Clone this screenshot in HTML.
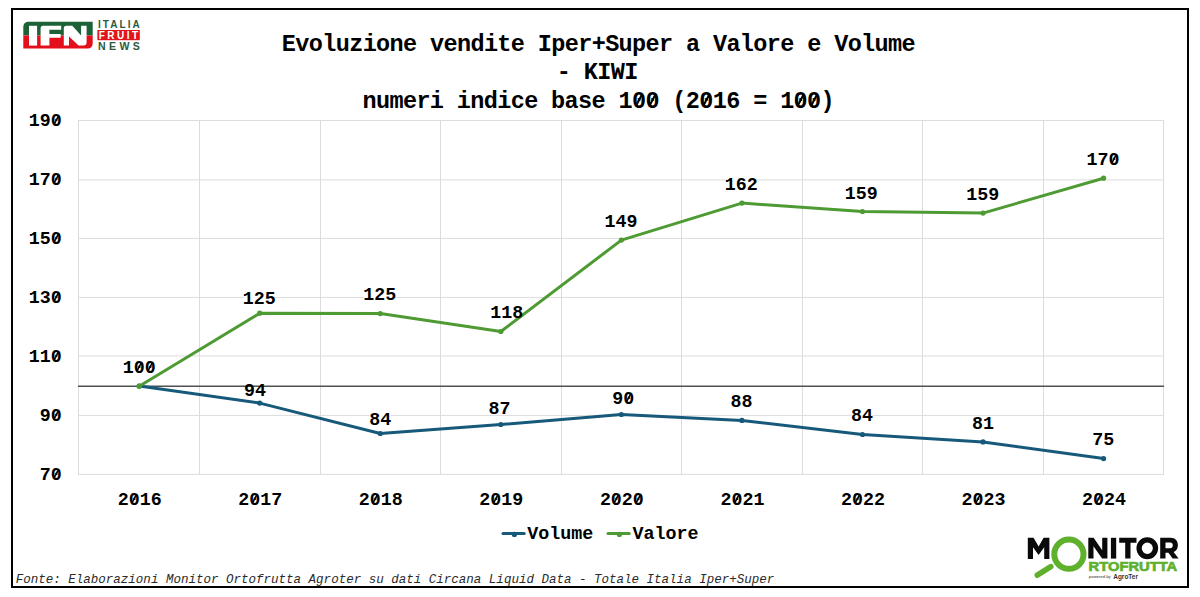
<!DOCTYPE html>
<html><head><meta charset="utf-8"><style>
html,body{margin:0;padding:0;background:#fff;}
body{width:1200px;height:597px;overflow:hidden;}
svg{display:block;}
.g{stroke:#dcdcdc;stroke-width:1;}
.l{font-family:"Liberation Mono",monospace;font-weight:bold;font-size:18.33px;fill:#000;}
.t{font-family:"Liberation Mono",monospace;font-weight:bold;font-size:23.5px;letter-spacing:-0.63px;fill:#000;}
.f{font-family:"Liberation Mono",monospace;font-style:italic;font-size:12.52px;fill:#2a2a2a;}
</style></head><body>
<svg width="1200" height="597" viewBox="0 0 1200 597">
<rect x="0" y="0" width="1200" height="597" fill="#fff"/>
<rect x="12" y="9" width="1176" height="578" fill="none" stroke="#000" stroke-width="2"/>
<!-- title -->
<text x="281.8" y="51" class="t">Evoluzione vendite Iper+Super a Valore e Volume</text>
<text x="556.8" y="79.1" class="t">- KIWI</text>
<text x="362.5" y="108.2" class="t">numeri indice base 100 (2016 = 100)</text>
<line x1="78" y1="120.55" x2="1164" y2="120.55" class="g"/>
<line x1="78" y1="179.9" x2="1164" y2="179.9" class="g"/>
<line x1="78" y1="238.4" x2="1164" y2="238.4" class="g"/>
<line x1="78" y1="297.4" x2="1164" y2="297.4" class="g"/>
<line x1="78" y1="355.95" x2="1164" y2="355.95" class="g"/>
<line x1="78" y1="415.4" x2="1164" y2="415.4" class="g"/>
<line x1="78" y1="474.4" x2="1164" y2="474.4" class="g"/>
<line x1="78.5" y1="120.05" x2="78.5" y2="474.9" class="g"/>
<line x1="199.5" y1="120.05" x2="199.5" y2="474.9" class="g"/>
<line x1="320.5" y1="120.05" x2="320.5" y2="474.9" class="g"/>
<line x1="440.5" y1="120.05" x2="440.5" y2="474.9" class="g"/>
<line x1="561.5" y1="120.05" x2="561.5" y2="474.9" class="g"/>
<line x1="681.5" y1="120.05" x2="681.5" y2="474.9" class="g"/>
<line x1="802.5" y1="120.05" x2="802.5" y2="474.9" class="g"/>
<line x1="922.5" y1="120.05" x2="922.5" y2="474.9" class="g"/>
<line x1="1043.5" y1="120.05" x2="1043.5" y2="474.9" class="g"/>
<line x1="1163.5" y1="120.05" x2="1163.5" y2="474.9" class="g"/>
<rect x="123.6" y="360.4" width="31.5" height="13.1" fill="#fff"/>
<rect x="243.9" y="291.4" width="30.7" height="12.8" fill="#fff"/>
<rect x="364.3" y="288.2" width="30.7" height="12.9" fill="#fff"/>
<rect x="491.2" y="305.0" width="31.1" height="13.5" fill="#fff"/>
<rect x="605.2" y="214.2" width="31.6" height="13.5" fill="#fff"/>
<rect x="725.6" y="177.1" width="31.2" height="13.5" fill="#fff"/>
<rect x="845.8" y="186.1" width="31.0" height="13.2" fill="#fff"/>
<rect x="966.9" y="187.5" width="31.6" height="13.1" fill="#fff"/>
<rect x="1087.1" y="152.8" width="31.9" height="13.0" fill="#fff"/>
<rect x="369.7" y="411.9" width="21.3" height="13.5" fill="#fff"/>
<rect x="489.1" y="400.8" width="20.8" height="13.4" fill="#fff"/>
<rect x="612.7" y="391.2" width="21.2" height="13.3" fill="#fff"/>
<rect x="731.2" y="394.7" width="20.9" height="13.0" fill="#fff"/>
<rect x="851.6" y="408.9" width="20.9" height="13.1" fill="#fff"/>
<rect x="972.7" y="416.2" width="20.6" height="13.3" fill="#fff"/>
<rect x="1093.0" y="432.9" width="20.5" height="13.2" fill="#fff"/>
<line x1="78" y1="386.3" x2="1164" y2="386.3" stroke="#505050" stroke-width="1.4"/>
<text x="61.8" y="126.4" text-anchor="end" class="l">190</text>
<text x="61.8" y="185.3" text-anchor="end" class="l">170</text>
<text x="61.8" y="244.3" text-anchor="end" class="l">150</text>
<text x="61.8" y="303.2" text-anchor="end" class="l">130</text>
<text x="61.8" y="362.1" text-anchor="end" class="l">110</text>
<text x="61.8" y="421.0" text-anchor="end" class="l">90</text>
<text x="61.8" y="480.0" text-anchor="end" class="l">70</text>
<text x="139.68" y="505" text-anchor="middle" class="l">2016</text>
<text x="260.23" y="505" text-anchor="middle" class="l">2017</text>
<text x="380.77" y="505" text-anchor="middle" class="l">2018</text>
<text x="501.32" y="505" text-anchor="middle" class="l">2019</text>
<text x="621.88" y="505" text-anchor="middle" class="l">2020</text>
<text x="742.42" y="505" text-anchor="middle" class="l">2021</text>
<text x="862.97" y="505" text-anchor="middle" class="l">2022</text>
<text x="983.53" y="505" text-anchor="middle" class="l">2023</text>
<text x="1104.08" y="505" text-anchor="middle" class="l">2024</text>
<polyline points="139.18,386.1 259.73,403.1 380.27,433.5 500.82,424.5 621.38,414.5 741.92,420.4 862.47,434.5 983.03,441.9 1103.58,458.6" fill="none" stroke="#17597a" stroke-width="3" stroke-linejoin="round" stroke-linecap="round"/>
<circle cx="139.18" cy="386.1" r="2.6" fill="#17597a"/>
<circle cx="259.73" cy="403.1" r="2.6" fill="#17597a"/>
<circle cx="380.27" cy="433.5" r="2.6" fill="#17597a"/>
<circle cx="500.82" cy="424.5" r="2.6" fill="#17597a"/>
<circle cx="621.38" cy="414.5" r="2.6" fill="#17597a"/>
<circle cx="741.92" cy="420.4" r="2.6" fill="#17597a"/>
<circle cx="862.47" cy="434.5" r="2.6" fill="#17597a"/>
<circle cx="983.03" cy="441.9" r="2.6" fill="#17597a"/>
<circle cx="1103.58" cy="458.6" r="2.6" fill="#17597a"/>
<polyline points="139.18,386.2 259.73,313.2 380.27,313.6 500.82,331.5 621.38,240.1 741.92,203.1 862.47,211.5 983.03,213.1 1103.58,178.2" fill="none" stroke="#4e9b33" stroke-width="3" stroke-linejoin="round" stroke-linecap="round"/>
<circle cx="139.18" cy="386.2" r="2.6" fill="#4e9b33"/>
<circle cx="259.73" cy="313.2" r="2.6" fill="#4e9b33"/>
<circle cx="380.27" cy="313.6" r="2.6" fill="#4e9b33"/>
<circle cx="500.82" cy="331.5" r="2.6" fill="#4e9b33"/>
<circle cx="621.38" cy="240.1" r="2.6" fill="#4e9b33"/>
<circle cx="741.92" cy="203.1" r="2.6" fill="#4e9b33"/>
<circle cx="862.47" cy="211.5" r="2.6" fill="#4e9b33"/>
<circle cx="983.03" cy="213.1" r="2.6" fill="#4e9b33"/>
<circle cx="1103.58" cy="178.2" r="2.6" fill="#4e9b33"/>
<text x="139.35" y="372.8" text-anchor="middle" class="l">100</text>
<text x="259.25" y="303.5" text-anchor="middle" class="l">125</text>
<text x="379.65" y="300.4" text-anchor="middle" class="l">125</text>
<text x="506.75" y="317.8" text-anchor="middle" class="l">118</text>
<text x="621" y="227.0" text-anchor="middle" class="l">149</text>
<text x="741.2" y="189.9" text-anchor="middle" class="l">162</text>
<text x="861.3" y="198.6" text-anchor="middle" class="l">159</text>
<text x="982.7" y="199.9" text-anchor="middle" class="l">159</text>
<text x="1103" y="165.1" text-anchor="middle" class="l">170</text>
<text x="255" y="396.2" text-anchor="middle" class="l">94</text>
<text x="380.35" y="424.7" text-anchor="middle" class="l">84</text>
<text x="499.5" y="413.5" text-anchor="middle" class="l">87</text>
<text x="623.3" y="403.8" text-anchor="middle" class="l">90</text>
<text x="741.6" y="407.0" text-anchor="middle" class="l">88</text>
<text x="862" y="421.3" text-anchor="middle" class="l">84</text>
<text x="983" y="428.8" text-anchor="middle" class="l">81</text>
<text x="1103.2" y="445.4" text-anchor="middle" class="l">75</text>
<line x1="54.24" y1="124.08" x2="58.32" y2="116.25" stroke="#000" stroke-width="1.56"/>
<line x1="54.24" y1="183.01" x2="58.32" y2="175.18" stroke="#000" stroke-width="1.56"/>
<line x1="54.24" y1="241.94" x2="58.32" y2="234.11" stroke="#000" stroke-width="1.56"/>
<line x1="54.24" y1="300.87" x2="58.32" y2="293.04" stroke="#000" stroke-width="1.56"/>
<line x1="54.24" y1="359.80" x2="58.32" y2="351.97" stroke="#000" stroke-width="1.56"/>
<line x1="54.24" y1="418.73" x2="58.32" y2="410.90" stroke="#000" stroke-width="1.56"/>
<line x1="54.24" y1="477.66" x2="58.32" y2="469.83" stroke="#000" stroke-width="1.56"/>
<line x1="132.12" y1="502.68" x2="136.20" y2="494.85" stroke="#000" stroke-width="1.56"/>
<line x1="252.67" y1="502.68" x2="256.75" y2="494.85" stroke="#000" stroke-width="1.56"/>
<line x1="373.22" y1="502.68" x2="377.30" y2="494.85" stroke="#000" stroke-width="1.56"/>
<line x1="493.77" y1="502.68" x2="497.85" y2="494.85" stroke="#000" stroke-width="1.56"/>
<line x1="614.32" y1="502.68" x2="618.40" y2="494.85" stroke="#000" stroke-width="1.56"/>
<line x1="636.31" y1="502.68" x2="640.39" y2="494.85" stroke="#000" stroke-width="1.56"/>
<line x1="734.87" y1="502.68" x2="738.95" y2="494.85" stroke="#000" stroke-width="1.56"/>
<line x1="855.42" y1="502.68" x2="859.50" y2="494.85" stroke="#000" stroke-width="1.56"/>
<line x1="975.97" y1="502.68" x2="980.05" y2="494.85" stroke="#000" stroke-width="1.56"/>
<line x1="1096.52" y1="502.68" x2="1100.60" y2="494.85" stroke="#000" stroke-width="1.56"/>
<line x1="137.29" y1="370.48" x2="141.37" y2="362.65" stroke="#000" stroke-width="1.56"/>
<line x1="148.29" y1="370.48" x2="152.37" y2="362.65" stroke="#000" stroke-width="1.56"/>
<line x1="1111.94" y1="162.78" x2="1116.02" y2="154.95" stroke="#000" stroke-width="1.56"/>
<line x1="626.74" y1="401.48" x2="630.82" y2="393.65" stroke="#000" stroke-width="1.56"/>
<line x1="636.31" y1="105.22" x2="641.54" y2="95.19" stroke="#000" stroke-width="2.00"/>
<line x1="649.78" y1="105.22" x2="655.01" y2="95.19" stroke="#000" stroke-width="2.00"/>
<line x1="703.66" y1="105.22" x2="708.89" y2="95.19" stroke="#000" stroke-width="2.00"/>
<line x1="797.95" y1="105.22" x2="803.18" y2="95.19" stroke="#000" stroke-width="2.00"/>
<line x1="811.42" y1="105.22" x2="816.65" y2="95.19" stroke="#000" stroke-width="2.00"/>
<!-- legend -->
<line x1="503" y1="533.6" x2="524.2" y2="533.6" stroke="#17597a" stroke-width="3" stroke-linecap="round"/>
<circle cx="514.4" cy="534.4" r="2.6" fill="#17597a"/>
<text x="527.3" y="539" class="l">Volume</text>
<line x1="608" y1="533.6" x2="629.2" y2="533.6" stroke="#4e9b33" stroke-width="3" stroke-linecap="round"/>
<circle cx="619.4" cy="534.4" r="2.6" fill="#4e9b33"/>
<text x="632.5" y="539" class="l">Valore</text>
<!-- footnote -->
<text x="15.7" y="582.5" class="f">Fonte: Elaborazioni Monitor Ortofrutta Agroter su dati Circana Liquid Data - Totale Italia Iper+Super</text>
<!-- IFN logo -->
<g id="ifn">
<path d="M23.3,35.6 V26.8 A5,5 0 0 1 28.3,21.8 H92.7 V35.6 Z" fill="#1d6136"/>
<path d="M23.3,35.6 H92.7 V43.6 A5,5 0 0 1 87.7,48.6 H23.3 Z" fill="#e3101b"/>
<path d="M29,25.8 H37.1 V45.6 H29 Z" fill="#fff"/>
<path d="M40.6,45.6 V28.3 Q40.6,25.8 43.1,25.8 H61.2 V29.8 H49.4 V34.1 H60.7 V37.8 H49.4 V45.6 Z" fill="#fff"/>
<path d="M63.8,45.6 V28.3 Q63.8,25.8 66.3,25.8 H72.3 L81.1,35.5 V25.8 H86.6 V42.6 Q86.6,45.6 83.6,45.6 H78.6 L69,36.6 V45.6 Z" fill="#fff"/>
<text x="98" y="27.7" font-family="Liberation Sans" font-weight="bold" font-size="10" fill="#2a5a3c" textLength="41.8" lengthAdjust="spacing">ITALIA</text>
<rect x="97.4" y="30" width="42.4" height="10.2" fill="#e2141b"/>
<text x="98.7" y="38.7" font-family="Liberation Sans" font-weight="bold" font-size="10" fill="#fff" textLength="39.3" lengthAdjust="spacing">FRUIT</text>
<text x="98" y="49.9" font-family="Liberation Sans" font-weight="bold" font-size="10.6" fill="#2a5a3c" textLength="41.8" lengthAdjust="spacing">NEWS</text>
</g>
<!-- Monitor logo -->
<g id="mon" fill="#0a0a0a">
<path d="M1027.8,558.9 V537.8 H1033.6 L1038.6,546.4 L1043.6,537.8 H1049.4 V558.9 H1044.2 V547.2 L1038.6,555 L1033,547.2 V558.9 Z"/>
<path d="M1088.3,558.6 V537.8 H1093.6 L1102.2,550.2 V537.8 H1107.4 V558.6 H1102.1 L1093.5,546.2 V558.6 Z"/>
<path d="M1110.9,537.8 H1116.2 V558.6 H1110.9 Z"/>
<path d="M1119.2,537.8 H1136.5 V542.7 H1130.5 V558.6 H1125.2 V542.7 H1119.2 Z"/>
<ellipse cx="1147.3" cy="548.2" rx="8.2" ry="8.35" fill="none" stroke="#0a0a0a" stroke-width="5.3"/>
<path fill-rule="evenodd" d="M1160.2,558.6 V537.8 H1170.5 C1175.5,537.8 1177.9,541 1177.9,545.3 C1177.9,548.6 1176.3,551 1173.6,552 L1178.6,558.6 H1172.6 L1168.4,552.8 H1165.5 V558.6 Z M1165.5,542.4 V548.2 H1170.2 C1172,548.2 1172.8,547 1172.8,545.3 C1172.8,543.6 1172,542.4 1170.2,542.4 Z"/>
<circle cx="1068.9" cy="554.2" r="14.6" fill="none" stroke="#5fb02c" stroke-width="6"/>
<line x1="1037.3" y1="575.2" x2="1050.8" y2="566.6" stroke="#5fb02c" stroke-width="5.6" stroke-linecap="round"/>
<text x="1088.6" y="571" font-family="Liberation Sans" font-weight="bold" font-size="13.6" fill="#5fb02c" stroke="#5fb02c" stroke-width="0.7" textLength="88.6" lengthAdjust="spacingAndGlyphs">RTOFRUTTA</text>
<text x="1088.8" y="578.4" font-family="Liberation Sans" font-weight="bold" font-size="3.8" fill="#666" textLength="22" lengthAdjust="spacingAndGlyphs">powered by</text>
<text x="1113.2" y="578.6" font-family="Liberation Sans" font-weight="bold" font-size="7.6" fill="#333" textLength="24.8" lengthAdjust="spacingAndGlyphs">AgroTer</text>
</g>
</svg>
</body></html>
